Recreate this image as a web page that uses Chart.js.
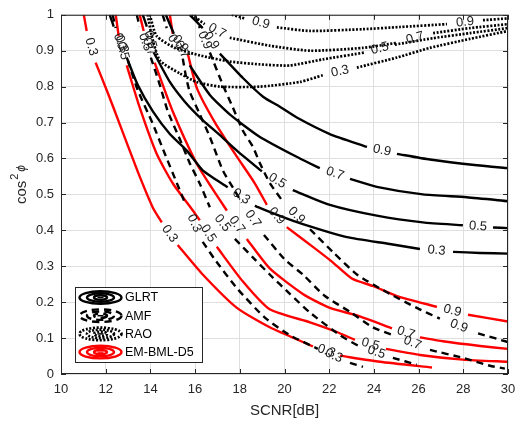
<!DOCTYPE html>
<html><head><meta charset="utf-8">
<script src="https://cdn.jsdelivr.net/npm/chart.js@4.4.1/dist/chart.umd.min.js"></script>
<style>html,body{margin:0;padding:0;background:#fff;}#wrap{width:526px;height:423px;}</style>
</head><body><div id="wrap"><canvas id="c" width="526" height="423"></canvas></div>
<script>
const FONT = '"Liberation Sans", Arial, Helvetica, sans-serif';
const xTicks = [10,12,14,16,18,20,22,24,26,28,30];
const yTicks = [0,0.1,0.2,0.3,0.4,0.5,0.6,0.7,0.8,0.9,1];
const yTickLabels = ['0','0.1','0.2','0.3','0.4','0.5','0.6','0.7','0.8','0.9','1'];
const levels = ['0.3','0.5','0.7','0.9'];
const seriesNames = ['GLRT','AMF','RAO','EM-BML-D5'];
const xTitle = 'SCNR[dB]';

// contour lines: [SCNR dB, cos^2 phi]; null = inline level label position
const glrt03 = [[12.18,1.0],[12.36,0.967],null,[12.94,0.881],[13.43,0.805],[14.11,0.731],[14.87,0.668],[15.63,0.622],[16.34,0.567],[17.46,0.520],null,[18.67,0.468],[19.79,0.440],[20.82,0.417],[22.79,0.381],[24.71,0.362],[26.06,0.348],null,[27.54,0.340],[28.75,0.337],[30,0.335]];
const glrt05 = [[13.66,1.0],[13.84,0.967],null,[14.15,0.895],[14.87,0.813],[15.54,0.758],[16.30,0.709],[17.11,0.665],[17.87,0.622],[18.99,0.564],null,[20.37,0.512],[22.03,0.471],[24.13,0.441],[26.19,0.422],[27.98,0.414],null,[29.33,0.408],[30,0.406]];
const glrt07 = [[14.69,1.0],[15.05,0.947],null,[15.76,0.859],[16.66,0.777],[17.55,0.723],[18.90,0.660],[20.69,0.600],[21.58,0.573],null,[22.93,0.543],[24.13,0.521],[26.19,0.500],[28.16,0.492],[30,0.481]];
const glrt09 = [[15.76,1.0],[16.34,0.963],null,[17.11,0.892],[18.14,0.824],[19.04,0.772],[19.79,0.744],[20.55,0.714],[22.03,0.668],[23.69,0.632],null,[25.03,0.613],[26.51,0.597],[28.61,0.581],[30,0.573]];

const amf03 = [[12.31,1.0],[12.45,0.963],null,[12.99,0.873],[13.43,0.791],[14.11,0.696],[14.64,0.614],[15.18,0.532],[15.58,0.471],null,[16.34,0.368],[16.88,0.319],[17.87,0.239],[19.12,0.157],[20.24,0.108],[21.49,0.070],null,[22.93,0.031],[23.51,0.020]];
const amf05 = [[13.39,1.0],[13.52,0.967],null,[14.02,0.881],[14.42,0.805],[14.78,0.731],[15.31,0.655],[15.76,0.587],[16.21,0.530],[16.66,0.464],null,[17.78,0.376],[18.67,0.319],[19.34,0.277],[20.24,0.223],[21.14,0.171],[22.48,0.108],[23.37,0.076],null,[24.85,0.045],[25.92,0.026]];
const amf07 = [[14.55,1.0],[14.73,0.963],null,[15.45,0.878],[15.58,0.832],[15.76,0.786],[16.21,0.723],[16.66,0.660],[17.24,0.567],[17.78,0.510],[18.09,0.477],null,[19.08,0.387],[20.01,0.319],[20.82,0.277],[21.81,0.217],[22.93,0.173],[23.95,0.130],[24.94,0.106],null,[26.51,0.067],[27.98,0.045],[29.19,0.023],[29.86,0.015]];
const amf09 = [[15.99,1.0],[16.21,0.963],null,[16.66,0.895],[17.24,0.805],[17.69,0.742],[18.14,0.677],[18.58,0.633],[18.90,0.587],[19.34,0.532],[19.93,0.480],null,[21.14,0.403],[22.16,0.340],[23.24,0.277],[24.71,0.223],[25.92,0.184],[26.95,0.154],null,[28.66,0.113],[30,0.089]];

const rao03 = [[13.88,1.0],[14.06,0.941],[14.42,0.873],[15.31,0.837],[16.07,0.813],[17.11,0.800],[18.90,0.800],[20.69,0.813],[21.72,0.832],null,[23.24,0.853],[25.03,0.881],[26.51,0.908],[28.30,0.933],[30,0.955]];
const rao05 = [[13.97,1.0],[14.28,0.941],[15.09,0.908],[16.21,0.887],[17.55,0.870],[18.90,0.862],[20.24,0.859],[21.72,0.876],[23.60,0.895],null,[24.94,0.917],[26.65,0.935],[28.30,0.949],[30,0.963]];
const rao07 = [[15.85,1.0],[16.43,0.974],null,[17.55,0.936],[19.34,0.914],[21.14,0.900],[23.51,0.908],[25.03,0.922],null,[26.65,0.949],[28.30,0.963],[30,0.974]];
const rao09 = [[17.64,1.0],[18.22,0.990],null,[19.66,0.965],[21.14,0.955],[23.51,0.960],[25.16,0.966],[27.27,0.974],null,[28.88,0.985],[30,0.990]];

const em03 = [[11.02,1.0],[11.15,0.955],null,[11.55,0.867],[12.09,0.783],[12.63,0.695],[13.43,0.564],[14.11,0.463],[14.51,0.422],null,[15.22,0.359],[16.34,0.277],[17.87,0.184],[19.34,0.130],[21.27,0.077],null,[22.48,0.051],[24.27,0.034],[26.6,0.018]];
const em05 = [[12.45,1.0],[12.58,0.941],null,[12.94,0.859],[13.52,0.742],[14.28,0.613],[15.0,0.531],[15.9,0.455],[16.21,0.428],null,[16.97,0.354],[18.13,0.258],[19.34,0.180],[21.14,0.144],[22.26,0.119],[23.15,0.095],null,[24.54,0.070],[26.06,0.053],[27.98,0.040],[30,0.034]];
const em07 = [[13.52,1.0],[13.70,0.955],null,[14.19,0.867],[15.0,0.731],[16.07,0.586],[16.75,0.518],[17.42,0.455],null,[18.31,0.376],[19.34,0.294],[20.82,0.223],[22.03,0.184],[23.24,0.163],[24.81,0.127],null,[26.06,0.102],[27.09,0.091],[28.75,0.078],[30,0.070]];
const em09 = [[14.87,1.0],[15.0,0.947],null,[15.67,0.892],[16.08,0.796],[16.89,0.700],[17.87,0.605],[18.67,0.531],[19.21,0.471],null,[20.10,0.409],[21.27,0.354],[22.12,0.313],[23.01,0.266],[23.95,0.245],[25.03,0.217],[26.82,0.187],null,[28.21,0.165],[30,0.146]];

const families = [
  {name: seriesNames[0], curves: [glrt03, glrt05, glrt07, glrt09], color: '#000000', dash: [], width: 2.4},
  {name: seriesNames[1], curves: [amf03, amf05, amf07, amf09], color: '#000000', dash: [7,5], width: 2.4},
  {name: seriesNames[2], curves: [rao03, rao05, rao07, rao09], color: '#000000', dash: [2,1.6], width: 2.7},
  {name: seriesNames[3], curves: [em03, em05, em07, em09], color: '#ff0000', dash: [], width: 2.4}
];

function toPts(arr){
  return arr.map((p,i)=> p ? {x:p[0], y:p[1]} : {x:arr[i-1][0], y:null});
}

const datasets = [];
families.forEach(f=>{
  f.curves.forEach((c,k)=>{
    datasets.push({
      label: f.name + ' ' + levels[k],
      levelText: levels[k],
      data: toPts(c),
      borderColor: f.color,
      borderWidth: f.width,
      borderDash: f.dash,
      borderCapStyle: 'butt',
      pointRadius: 0,
      fill: false,
      tension: 0.2,
      spanGaps: false
    });
  });
});

const decor = {
  id: 'decor',
  afterDatasetsDraw(chart){
    const ctx = chart.ctx, xs = chart.scales.x, ys = chart.scales.y, a = chart.chartArea;
    ctx.save();
    // inline contour labels
    ctx.font = '13px ' + FONT;
    ctx.fillStyle = '#1a1a1a';
    ctx.textAlign = 'center';
    ctx.textBaseline = 'middle';
    chart.data.datasets.forEach(ds=>{
      const d = ds.data;
      for(let i=1;i<d.length-1;i++){
        if(d[i].y === null){
          const p = d[i-1], q = d[i+1];
          const x1 = xs.getPixelForValue(p.x), y1 = ys.getPixelForValue(p.y);
          const x2 = xs.getPixelForValue(q.x), y2 = ys.getPixelForValue(q.y);
          let ang = Math.atan2(y2-y1, x2-x1);
          if(ang > Math.PI/2) ang -= Math.PI;
          if(ang < -Math.PI/2) ang += Math.PI;
          ctx.save();
          ctx.translate((x1+x2)/2, (y1+y2)/2);
          ctx.rotate(ang);
          ctx.fillText(ds.levelText, 0, 0);
          ctx.restore();
        }
      }
    });
    // axes box and inward ticks
    ctx.strokeStyle = '#262626';
    ctx.lineWidth = 1;
    ctx.setLineDash([]);
    ctx.strokeRect(a.left+0.5, a.top+0.5, a.right-a.left-1, a.bottom-a.top-1);
    ctx.beginPath();
    xTicks.forEach(v=>{
      const px = Math.round(xs.getPixelForValue(v))+0.5;
      ctx.moveTo(px, a.bottom); ctx.lineTo(px, a.bottom-5);
      ctx.moveTo(px, a.top); ctx.lineTo(px, a.top+5);
    });
    yTicks.forEach(v=>{
      const py = Math.round(ys.getPixelForValue(v))+0.5;
      ctx.moveTo(a.left, py); ctx.lineTo(a.left+5, py);
      ctx.moveTo(a.right, py); ctx.lineTo(a.right-5, py);
    });
    ctx.stroke();
    // x title
    ctx.fillStyle = '#262626';
    ctx.font = '15px ' + FONT;
    ctx.textAlign = 'center';
    ctx.textBaseline = 'middle';
    ctx.fillText(xTitle, (a.left+a.right)/2, 411);
    // y title cos^2 phi
    ctx.save();
    ctx.translate(26, 186);
    ctx.rotate(-Math.PI/2);
    ctx.textAlign = 'left';
    ctx.textBaseline = 'alphabetic';
    ctx.font = '15px ' + FONT;
    ctx.fillText('cos', -18, 0);
    const w = ctx.measureText('cos').width;
    ctx.font = '11px ' + FONT;
    ctx.fillText('2', -18 + w + 1, -8);
    ctx.font = 'italic 12px ' + FONT;
    ctx.fillText('\u03D5', -18 + w + 9, -1);
    ctx.restore();
    // legend
    const lx = 75, ly = 287, lw = 127, lh = 75;
    ctx.fillStyle = '#ffffff';
    ctx.fillRect(lx, ly, lw, lh);
    ctx.strokeStyle = '#262626';
    ctx.lineWidth = 1;
    ctx.strokeRect(lx+0.5, ly+0.5, lw, lh);
    families.forEach((f,i)=>{
      const cy = 297.5 + i*18.2, cx = 100.5;
      ctx.save();
      ctx.strokeStyle = f.color;
      ctx.lineWidth = f.width;
      ctx.setLineDash(f.dash);
      [[21,6.3],[13.5,4.2],[6.5,2.2]].forEach(r=>{
        ctx.beginPath(); ctx.ellipse(cx, cy, r[0], r[1], 0, 0, Math.PI*2); ctx.stroke();
      });
      ctx.setLineDash([]);
      ctx.lineWidth = 1.5;
      ctx.beginPath(); ctx.moveTo(cx-3, cy); ctx.lineTo(cx+3, cy); ctx.stroke();
      ctx.restore();
      ctx.fillStyle = '#000';
      ctx.font = '12.5px ' + FONT;
      ctx.textAlign = 'left';
      ctx.textBaseline = 'middle';
      ctx.fillText(f.name, 125, cy+0.5);
    });
    ctx.restore();
  }
};

new Chart(document.getElementById('c'), {
  type: 'line',
  data: {datasets},
  options: {
    responsive: false,
    animation: false,
    events: [],
    layout: {padding: {top: 9, right: 18, left: 0, bottom: 0}},
    plugins: {legend: {display: false}, tooltip: {enabled: false}},
    scales: {
      x: {
        type: 'linear', min: 10, max: 30,
        afterBuildTicks: s => { s.ticks = xTicks.map(v=>({value:v})); },
        afterFit: s => { s.height = 49; },
        grid: {color: '#dfdfdf', drawTicks: false, lineWidth: 1},
        border: {display: false},
        ticks: {color: '#262626', font: {family: FONT, size: 13}, padding: 8, maxRotation: 0, autoSkip: false}
      },
      y: {
        type: 'linear', min: 0, max: 1,
        afterBuildTicks: s => { s.ticks = yTicks.map(v=>({value:v})); },
        afterFit: s => { s.width = 61; },
        grid: {color: '#dfdfdf', drawTicks: false, lineWidth: 1},
        border: {display: false},
        ticks: {color: '#262626', font: {family: FONT, size: 13}, padding: 7, autoSkip: false,
                callback: (v, i) => yTickLabels[i]}
      }
    }
  },
  plugins: [decor]
});
</script></body></html>
